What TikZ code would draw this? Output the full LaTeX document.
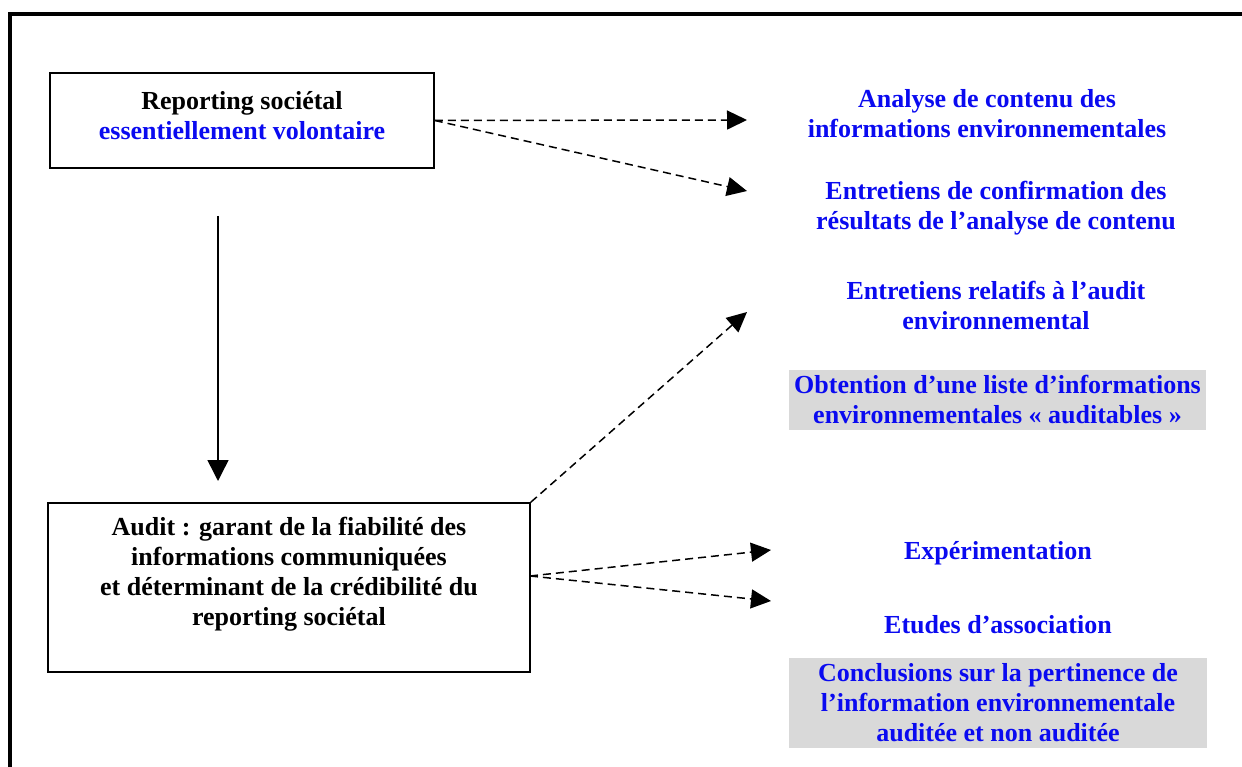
\documentclass[tikz,border=0pt]{standalone}
\usepackage{fontspec}
\setmainfont{Liberation Serif}
\usetikzlibrary{arrows.meta,calc}
\definecolor{txtblue}{RGB}{10,10,240}
\definecolor{shade}{RGB}{217,217,217}
\tikzset{
  boxed/.style={draw=black,line width=1.6pt,inner sep=0pt},
  lbl/.style={font=\fontsize{26}{30}\selectfont\bfseries,align=center,inner sep=0pt},
  bluelbl/.style={lbl,text=txtblue},
  shaded/.style={bluelbl,fill=shade,inner sep=0pt},
  dasharrow/.style={line width=1.5pt,dash pattern=on 8pt off 5pt,-{Triangle[length=20pt,width=19pt]}},
  solidarrow/.style={line width=1.5pt,-{Triangle[length=21pt,width=21pt]}}
}
\begin{document}
\begin{tikzpicture}[x=1pt,y=-1pt]
\useasboundingbox (0,0) rectangle (1242,767);
% outer frame
\draw[line width=4pt] (9.5,800) -- (9.5,14) -- (1260,14);
% left boxes
\node[boxed,minimum width=384pt,minimum height=95pt] (rep) at (242,120.5) {};
\node[lbl] (reptxt) at (242,116) {Reporting sociétal\\\textcolor{txtblue}{essentiellement volontaire}};
\node[boxed,minimum width=482pt,minimum height=169pt] (aud) at (289,587.5) {};
\node[lbl] (audtxt) at (289,574) {Audit : garant de la fiabilité des\\informations communiquées\\et déterminant de la crédibilité du\\reporting sociétal};
% right labels
\node[bluelbl] (ana) at (987,114) {Analyse de contenu des\\informations environnementales};
\node[bluelbl] (conf) at (996,208) {Entretiens de confirmation des\\résultats de l’analyse de contenu};
\node[bluelbl] (rel) at (996,305) {Entretiens relatifs à l’audit\\environnemental};
\node[shaded,minimum width=417pt,minimum height=60pt] (obt) at (997.5,400) {Obtention d’une liste d’informations\\environnementales « auditables »};
\node[bluelbl] (exp) at (998,553) {Expérimentation};
\node[bluelbl] (etu) at (998,625) {Etudes d’association};
\node[shaded,minimum width=418pt,minimum height=90pt] (concl) at (998,703) {Conclusions sur la pertinence de\\l’information environnementale\\auditée et non auditée};
% arrow coordinates
\coordinate (t1) at (747,120);
\coordinate (t2) at (747,191);
\coordinate (t3) at (747,312);
\coordinate (s45) at (530,576);
\coordinate (t4) at (771,550);
\coordinate (t5) at (771,601);
\coordinate (vs) at (218,216);
\coordinate (ve) at (218,481);
% connectors
\draw[dasharrow] (rep.east) -- (t1);
\draw[dasharrow] (rep.east) -- (t2);
\draw[dasharrow] (aud.north east) -- (t3);
\draw[dasharrow] (s45) -- (t4);
\draw[dasharrow] (s45) -- (t5);
\draw[solidarrow] (vs) -- (ve);
\end{tikzpicture}
\end{document}
